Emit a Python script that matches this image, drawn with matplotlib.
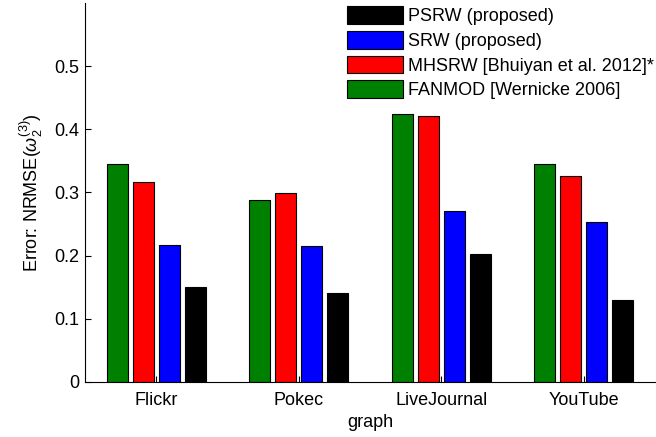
import numpy as np
from matplotlib import pyplot as plt

plt.rcParams['font.family'] = ['Liberation Sans', 'DejaVu Sans']
plt.rcParams['mathtext.fontset'] = 'custom'
plt.rcParams['mathtext.rm'] = 'Liberation Sans'
plt.rcParams['mathtext.it'] = 'Liberation Sans:italic'

graphs = ['Flickr', 'Pokec', 'LiveJournal', 'YouTube']
fanmod = [0.345, 0.288, 0.424, 0.345]
mhsrw = [0.317, 0.299, 0.421, 0.326]
srw = [0.217, 0.215, 0.271, 0.254]
psrw = [0.150, 0.141, 0.203, 0.130]

series = [
    (fanmod, (0, 0.5, 0), 'FANMOD [Wernicke 2006]'),
    (mhsrw, (1, 0, 0), 'MHSRW [Bhuiyan et al. 2012]*'),
    (srw, (0, 0, 1), 'SRW (proposed)'),
    (psrw, (0, 0, 0), 'PSRW (proposed)'),
]

fs = 13
fig = plt.figure(figsize=(6.56, 4.37), dpi=100)
ax = fig.add_axes([85 / 656, 55 / 437, 570 / 656, 379 / 437])

x = np.arange(1, len(graphs) + 1)
step = 0.182
width = 0.148
handles = []
for i, (vals, col, name) in enumerate(series):
    b = ax.bar(x + (i - 1.5) * step, vals, width, color=col,
               edgecolor='black', linewidth=0.8, label=name)
    handles.append(b)

ax.set_xlim(0.5, 4.5)
ax.set_ylim(0, 0.6)
ax.set_yticks([0, 0.1, 0.2, 0.3, 0.4, 0.5])
ax.set_yticklabels(['0', '0.1', '0.2', '0.3', '0.4', '0.5'])
ax.set_xticks(x)
ax.set_xticklabels(graphs)
ax.tick_params(direction='in', length=4, labelsize=fs, width=0.8)
ax.tick_params(axis='x', pad=7)
ax.tick_params(axis='y', pad=4)
for s in ['top', 'right']:
    ax.spines[s].set_visible(False)
ax.set_xlabel('graph', fontsize=fs, labelpad=4)
ax.set_ylabel(r'Error: NRMSE($\omega_2^{(3)}$)', fontsize=fs, labelpad=7)

leg = fig.legend(handles[::-1], [s[2] for s in series][::-1],
                 loc='upper left', bbox_to_anchor=(345 / 656, 1 - 4 / 437),
                 frameon=False, fontsize=fs, handlelength=3.1,
                 handleheight=1.15, handletextpad=0.28, labelspacing=0.32,
                 borderpad=0.1, borderaxespad=0)

fig.savefig('out.png', dpi=100)
